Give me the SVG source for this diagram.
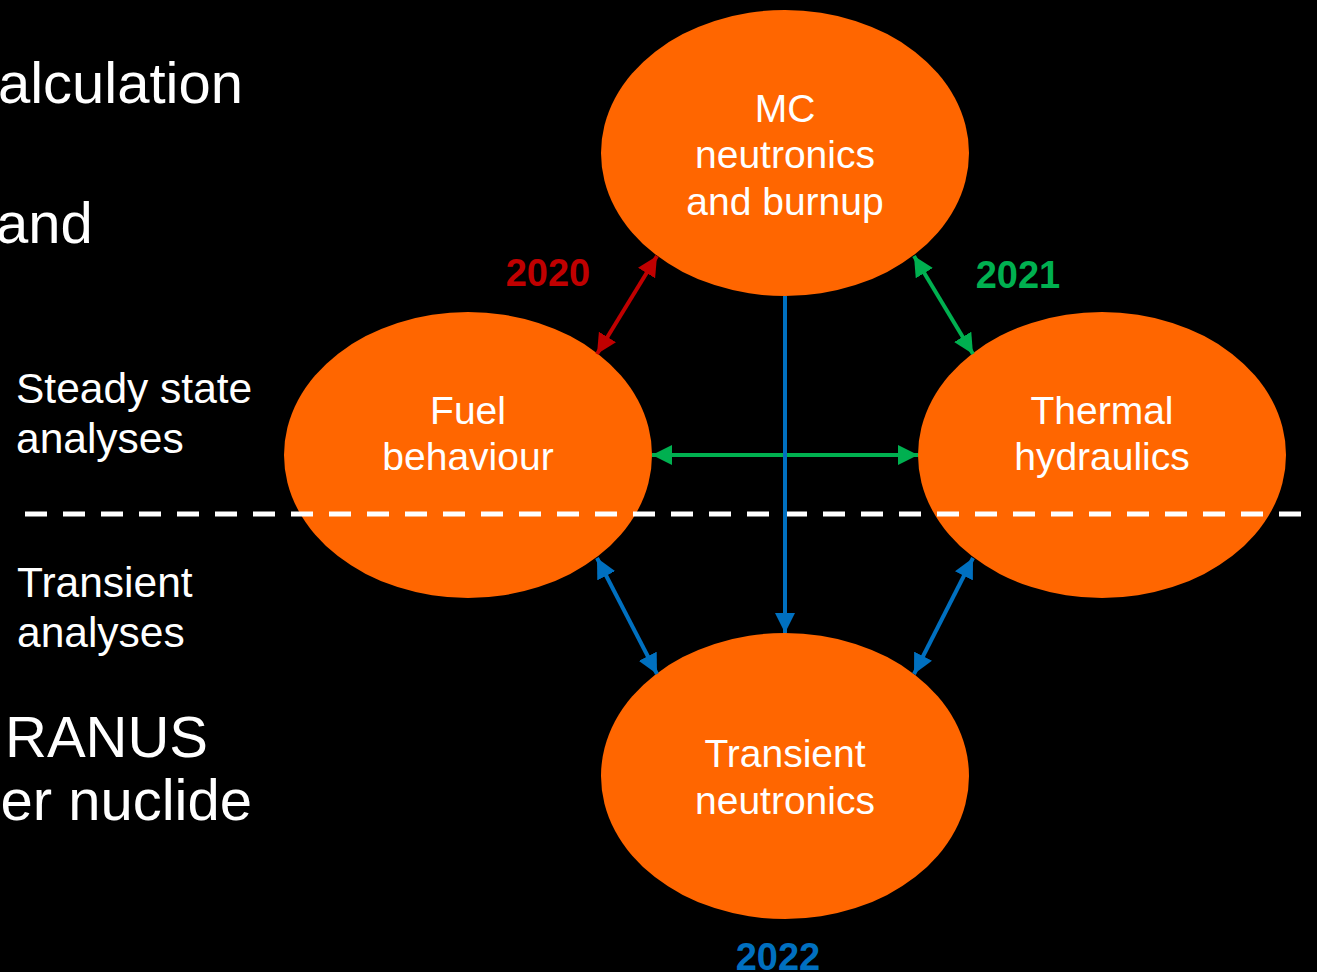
<svg xmlns="http://www.w3.org/2000/svg" width="1317" height="972" viewBox="0 0 1317 972">
<style>
.node{fill:#ff6600}
.nt{font-family:"Liberation Sans",Arial,sans-serif;font-size:39px;fill:#ffffff;text-anchor:middle}
.big{font-family:"Liberation Sans",Arial,sans-serif;font-size:58px;fill:#ffffff}
.side{font-family:"Liberation Sans",Arial,sans-serif;font-size:42.5px;fill:#ffffff}
.yr{font-family:"Liberation Sans",Arial,sans-serif;font-size:38px;font-weight:bold}
</style>
<defs>
<marker id="ar" viewBox="0 0 10 10" refX="10" refY="5" markerWidth="5" markerHeight="5" orient="auto-start-reverse" markerUnits="strokeWidth"><path d="M0,0 L10,5 L0,10 z" fill="#c00000"/></marker>
<marker id="ag" viewBox="0 0 10 10" refX="10" refY="5" markerWidth="5" markerHeight="5" orient="auto-start-reverse" markerUnits="strokeWidth"><path d="M0,0 L10,5 L0,10 z" fill="#00b050"/></marker>
<marker id="ab" viewBox="0 0 10 10" refX="10" refY="5" markerWidth="5" markerHeight="5" orient="auto-start-reverse" markerUnits="strokeWidth"><path d="M0,0 L10,5 L0,10 z" fill="#0070c0"/></marker>
</defs>
<rect width="1317" height="972" fill="#000000"/>
<g id="bg-text">
<text class="big" x="243" y="103" text-anchor="end">alculation</text>
<text class="big" x="-4" y="243">and</text>
<text class="side" x="16" y="403">Steady state</text>
<text class="side" x="16" y="453">analyses</text>
<text class="side" x="17" y="597">Transient</text>
<text class="side" x="17" y="647">analyses</text>
<text class="big" x="5" y="757">RANUS</text>
<text class="big" x="252" y="820" text-anchor="end">er nuclide</text>
</g>
<g id="node-mc"><ellipse class="node" cx="785" cy="153" rx="184" ry="143"/>
<text class="nt" x="785" y="122">MC</text><text class="nt" x="785" y="168">neutronics</text><text class="nt" x="785" y="215">and burnup</text></g>
<g id="node-fuel"><ellipse class="node" cx="468" cy="455" rx="184" ry="143"/>
<text class="nt" x="468" y="424">Fuel</text><text class="nt" x="468" y="470">behaviour</text></g>
<g id="node-th"><ellipse class="node" cx="1102" cy="455" rx="184" ry="143"/>
<text class="nt" x="1102" y="424">Thermal</text><text class="nt" x="1102" y="470">hydraulics</text></g>
<g id="node-tn"><ellipse class="node" cx="785" cy="776" rx="184" ry="143"/>
<text class="nt" x="785" y="767">Transient</text><text class="nt" x="785" y="814">neutronics</text></g>
<line id="divider" x1="25" y1="514" x2="1317" y2="514" stroke="#ffffff" stroke-width="5" stroke-dasharray="22 16"/>
<g id="connectors" stroke-width="4" fill="none">
<line x1="657" y1="256" x2="597" y2="354" stroke="#c00000" marker-start="url(#ar)" marker-end="url(#ar)"/>
<line x1="914" y1="256" x2="973" y2="354" stroke="#00b050" marker-start="url(#ag)" marker-end="url(#ag)"/>
<line x1="652" y1="455" x2="918" y2="455" stroke="#00b050" marker-start="url(#ag)" marker-end="url(#ag)"/>
<line x1="785" y1="296" x2="785" y2="633" stroke="#0070c0" marker-end="url(#ab)"/>
<line x1="597" y1="558" x2="657" y2="674" stroke="#0070c0" marker-start="url(#ab)" marker-end="url(#ab)"/>
<line x1="973" y1="558" x2="914" y2="674" stroke="#0070c0" marker-start="url(#ab)" marker-end="url(#ab)"/>
</g>
<g id="labels">
<text class="yr" x="548" y="286" text-anchor="middle" fill="#c00000">2020</text>
<text class="yr" x="1018" y="288" text-anchor="middle" fill="#00b050">2021</text>
<text class="yr" x="778" y="970" text-anchor="middle" fill="#0070c0">2022</text>
</g>
</svg>
